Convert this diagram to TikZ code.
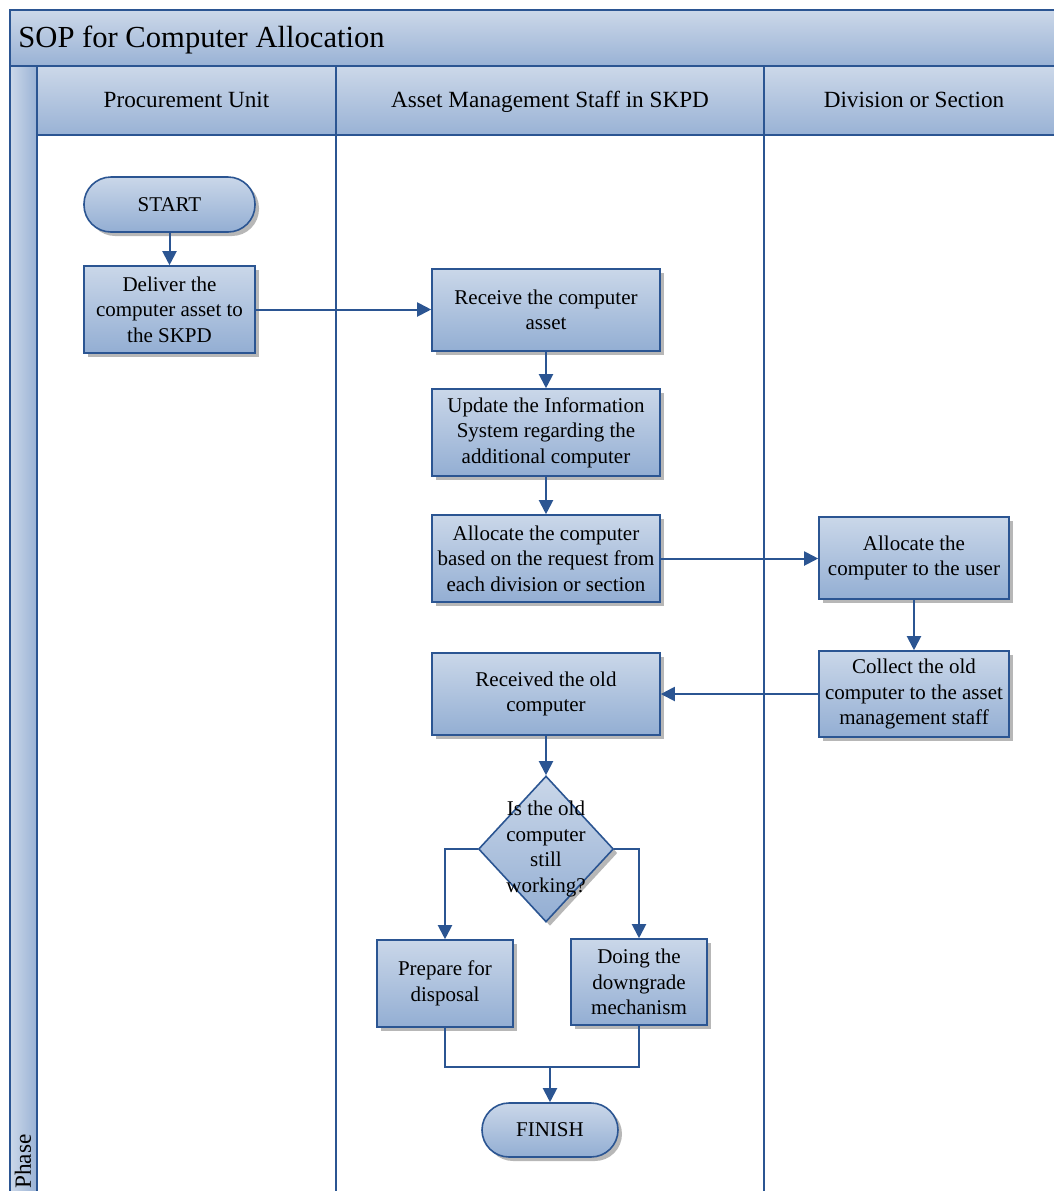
\documentclass[tikz,border=0pt]{standalone}
\usepackage{fontspec}
\setmainfont{Liberation Serif}
\usetikzlibrary{shapes.geometric,arrows.meta,shadows}

\definecolor{edgeblue}{HTML}{2B5592}
\definecolor{filltop}{HTML}{CAD7E9}
\definecolor{fillbot}{HTML}{93AED3}
\definecolor{headtop}{HTML}{CCD8E9}
\definecolor{headbot}{HTML}{99B2D5}

\newcommand{\headfont}{\fontsize{11.6}{12.8}\selectfont}
\newcommand{\bodyfont}{\fontsize{10.5}{12.75}\selectfont}

\begin{document}
\begin{tikzpicture}[x=0.5pt,y=-0.5pt,
  frame/.style={draw=edgeblue, line width=0.8pt},
  flowshade/.style={top color=filltop, bottom color=fillbot},
  shadowed/.style={drop shadow={shadow xshift=2pt, shadow yshift=-2pt, opacity=0.4, fill=black!70}},
  stepbox/.style={rectangle, draw=edgeblue, line width=0.8pt, flowshade, shadowed,
    align=center, font=\bodyfont, inner sep=0pt},
  terminal/.style={stepbox, rounded corners=13.5pt},
  decision/.style={diamond, draw=edgeblue, line width=0.8pt, flowshade, shadowed,
    inner sep=0pt, minimum width=67.5pt, minimum height=73pt},
  lanehead/.style={font=\headfont, inner sep=0pt},
  link/.style={draw=edgeblue, line width=1pt},
  arr/.style={link, -{Triangle[length=7pt,width=7pt]}}
]
\useasboundingbox (0,0) rectangle (1054,1191);
\clip (0,0) rectangle (1054,1191);

% pool: title bar, phase column, lane headers
\fill[top color=headtop, bottom color=headbot] (10,10) rectangle (1064,66);
\fill[left color=headtop, right color=headbot] (10,66) rectangle (37,1200);
\fill[top color=headtop, bottom color=headbot] (37,66) rectangle (1064,135);
\draw[frame] (10,10) rectangle (1064,1200);
\draw[frame] (10,66) -- (1064,66);
\draw[frame] (37,66) -- (37,1200);
\draw[frame] (37,135) -- (1064,135);
\draw[frame] (336,66) -- (336,1200);
\draw[frame] (764,66) -- (764,1200);

\node[anchor=base west, font=\fontsize{15.3}{17}\selectfont, inner sep=0pt] (title) at (18,47) {SOP for Computer Allocation};
\node[lanehead, anchor=base] (laneA) at (186.5,107) {Procurement Unit};
\node[lanehead, anchor=base] (laneB) at (550,107) {Asset Management Staff in SKPD};
\node[lanehead, anchor=base] (laneC) at (914,107) {Division or Section};
\node[lanehead, rotate=90, anchor=east] (phase) at (23,1134) {Phase};

% flow steps
\node[terminal, minimum width=85.5pt, minimum height=27.5pt] (start) at (169.5,204.5) {START};
\node[stepbox, minimum width=85.5pt, minimum height=43.5pt] (deliver) at (169.5,309.5) {Deliver the\\computer asset to\\the SKPD};
\node[stepbox, minimum width=114pt, minimum height=41pt] (receive) at (546,310) {Receive the computer\\asset};
\node[stepbox, minimum width=114pt, minimum height=43.5pt] (update) at (546,432.5) {Update the Information\\System regarding the\\additional computer};
\node[stepbox, minimum width=114pt, minimum height=43.5pt] (alloc) at (546,558.5) {Allocate the computer\\based on the request from\\each division or section};
\node[stepbox, minimum width=95pt, minimum height=41pt] (user) at (914,558) {Allocate the\\computer to the user};
\node[stepbox, minimum width=95pt, minimum height=43pt] (collect) at (914,694) {Collect the old\\computer to the asset\\management staff};
\node[stepbox, minimum width=114pt, minimum height=41pt] (old) at (546,694) {Received the old\\computer};
\node[decision] (dec) at (546,849) {};
\node[font=\bodyfont, align=center, inner sep=0pt] (dectext) at (546,849) {Is the old\\computer\\still\\working?};
\node[stepbox, minimum width=68pt, minimum height=43.5pt] (prep) at (445,983.5) {Prepare for\\disposal};
\node[stepbox, minimum width=68pt, minimum height=43pt] (down) at (639,982) {Doing the\\downgrade\\mechanism};
\node[terminal, minimum width=68pt, minimum height=27pt] (finish) at (550,1130) {FINISH};

% connectors
\draw[arr] (start) -- (deliver);
\draw[arr] (deliver.east) -- (deliver.east -| receive.west);
\draw[arr] (receive) -- (update);
\draw[arr] (update) -- (alloc);
\draw[arr] (alloc.east) -- (alloc.east -| user.west);
\draw[arr] (user) -- (collect);
\draw[arr] (collect.west) -- (collect.west -| old.east);
\draw[arr] (old) -- (dec);
\draw[arr] (dec.west) -| (prep.north);
\draw[arr] (dec.east) -| (down.north);
\coordinate (join) at (550,1067);
\draw[link] (prep.south) |- (join);
\draw[link] (down.south) |- (join);
\draw[arr] (join) -- (finish.north);
\end{tikzpicture}
\end{document}
